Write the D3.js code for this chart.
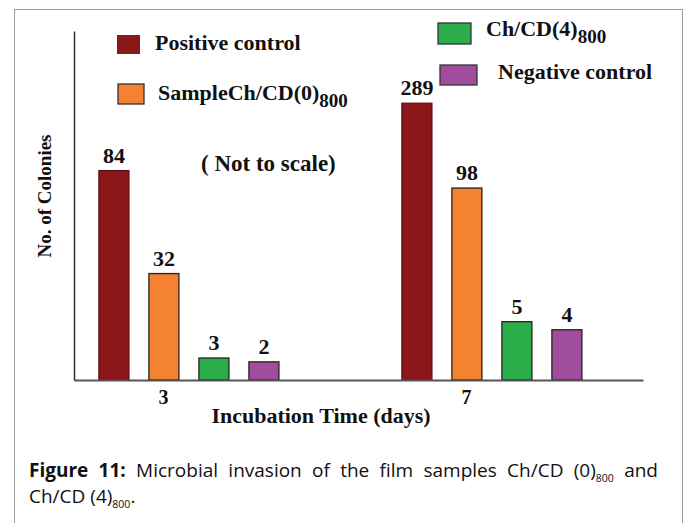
<!DOCTYPE html>
<meta charset="utf-8">
<style>
body { margin: 0; background: #fff; }
#frame {
  position: absolute; left: 14px; top: 9px;
  width: 667px; height: 530px;
  border: 1px solid #9c9c9c; border-bottom: none;
}
svg { position: absolute; left: 0; top: 0; }
.caption {
  position: absolute; left: 29px; width: 629px;
  font-family: "Open Sans", sans-serif; font-size: 19px; color: #111;
  white-space: nowrap;
}
#cap1 { top: 457px; text-align: justify; text-align-last: justify; }
#cap2 { top: 483px; }
.caption sub { font-size: 10.5px; vertical-align: -5px; line-height: 0; }
</style>
<div id="frame"></div>
<svg width="688" height="523"></svg>
<div class="caption" id="cap1"><b>Figure 11:</b> Microbial invasion of the film samples Ch/CD (0)<sub>800</sub> and</div>
<div class="caption" id="cap2">Ch/CD (4)<sub>800</sub>.</div>
<script src="https://d3js.org/d3.v7.min.js"></script>
<script>

var days = ["3", "7"]
var series = ["Positive control", "SampleCh/CD(0)", "Ch/CD(4)", "Negative control"]
var seriesSub = ["", "800", "800", ""]
var colors = ["#8b171b", "#f58230", "#2bae4a", "#a04d9e"]

// colony counts written above the bars
var colonies3 = [84, 32, 3, 2]
var colonies7 = [289, 98, 5, 4]

// the figure is "not to scale": bar heights as drawn, in axis units (0-100)
var drawn3 = [60, 30.5, 6.3, 5.2]
var drawn7 = [79.3, 55, 16.7, 14.4]

var rows = []
days.forEach(function(day, i) {
  var counts = i == 0 ? colonies3 : colonies7
  var drawn = i == 0 ? drawn3 : drawn7
  series.forEach(function(s, j) {
    rows.push({day: day, series: s, idx: j, count: counts[j], h: drawn[j]})
  })
})

var serif = '"Liberation Serif", "Times New Roman", serif'
var svg = d3.select("svg")

var plot = {left: 74, right: 643, top: 31, bottom: 380}

var y = d3.scaleLinear().domain([0, 100]).range([plot.bottom, plot.top])
var x0 = d3.scalePoint().domain(days).range([plot.left, plot.right]).padding(0.439).align(0.432)
var x1 = d3.scaleBand().domain(series).range([-90, 90]).paddingInner(0.4)

// bars
var bar = svg.append("g").selectAll("g")
    .data(rows)
    .enter().append("g")
    .attr("transform", function(d) { return "translate(" + (x0(d.day) + x1(d.series)) + ",0)" })

bar.append("rect")
    .attr("y", function(d) { return y(d.h) })
    .attr("width", x1.bandwidth())
    .attr("height", function(d) { return y(0) - y(d.h) })
    .style("fill", function(d) { return colors[d.idx] })
    .style("stroke", function(d) { return d.idx == 0 ? "#5e1013" : "#222" })
    .style("stroke-width", 1.3)

bar.append("text")
    .attr("x", x1.bandwidth() / 2)
    .attr("y", function(d) { return y(d.h) - 8 })
    .attr("text-anchor", "middle")
    .style("font-family", serif)
    .style("font-weight", "bold")
    .style("font-size", "22px")
    .style("fill", "#111")
    .text(function(d) { return d.count })

// axes
var xAxis = svg.append("g")
    .attr("transform", "translate(0," + plot.bottom + ")")
    .call(d3.axisBottom(x0).tickSize(0).tickSizeOuter(0).tickPadding(10))
xAxis.select(".domain").style("stroke", "#555").style("stroke-width", 2)
xAxis.selectAll("text")
    .attr("dx", -26)
    .style("font-family", serif)
    .style("font-weight", "bold")
    .style("font-size", "20px")
    .style("fill", "#111")

var yAxis = svg.append("g")
    .attr("transform", "translate(" + plot.left + ",0)")
    .call(d3.axisLeft(y).tickValues([]).tickSizeOuter(0))
yAxis.select(".domain").style("stroke", "#333").style("stroke-width", 1.5)

svg.append("text")
    .attr("x", 321)
    .attr("y", 423)
    .attr("text-anchor", "middle")
    .style("font-family", serif)
    .style("font-weight", "bold")
    .style("font-size", "22px")
    .style("fill", "#111")
    .text("Incubation Time (days)")

svg.append("text")
    .attr("transform", "translate(51,196) rotate(-90)")
    .attr("text-anchor", "middle")
    .style("font-family", serif)
    .style("font-weight", "bold")
    .style("font-size", "19px")
    .style("fill", "#111")
    .text("No. of Colonies")

svg.append("text")
    .attr("x", 201)
    .attr("y", 171)
    .style("font-family", serif)
    .style("font-weight", "bold")
    .style("font-size", "23px")
    .style("fill", "#111")
    .text("( Not to scale)")

// legend, placed by hand like the original
var legendLayout = [
  {bx: 117, by: 35, bw: 23, bh: 19, tx: 155, ty: 50},
  {bx: 118, by: 84, bw: 26, bh: 20, tx: 158, ty: 100},
  {bx: 438, by: 23, bw: 33, bh: 21, tx: 486, ty: 36},
  {bx: 440, by: 65, bw: 37, bh: 20, tx: 498, ty: 79}
]

var legend = svg.append("g").selectAll("g")
    .data(series)
    .enter().append("g")

legend.append("rect")
    .attr("x", function(d, i) { return legendLayout[i].bx })
    .attr("y", function(d, i) { return legendLayout[i].by })
    .attr("width", function(d, i) { return legendLayout[i].bw })
    .attr("height", function(d, i) { return legendLayout[i].bh })
    .style("fill", function(d, i) { return colors[i] })
    .style("stroke", function(d, i) { return i == 0 ? "none" : "#333" })
    .style("stroke-width", 1.3)

var legendText = legend.append("text")
    .attr("x", function(d, i) { return legendLayout[i].tx })
    .attr("y", function(d, i) { return legendLayout[i].ty })
    .style("font-family", serif)
    .style("font-weight", "bold")
    .style("font-size", "22px")
    .style("fill", "#111")

legendText.append("tspan").text(function(d) { return d })
legendText.append("tspan")
    .attr("dy", 7)
    .style("font-size", "19px")
    .text(function(d, i) { return seriesSub[i] })

</script>
</html>
